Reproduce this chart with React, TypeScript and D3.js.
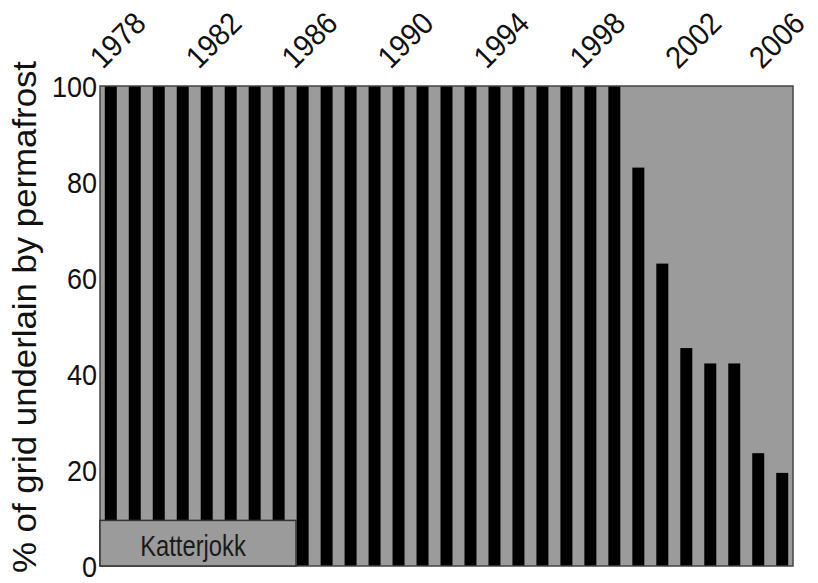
import React, { useMemo } from 'react';
import * as d3 from 'd3';

const YEARS = [
  1978, 1979, 1980, 1981, 1982, 1983, 1984, 1985, 1986, 1987,
  1988, 1989, 1990, 1991, 1992, 1993, 1994, 1995, 1996, 1997,
  1998, 1999, 2000, 2001, 2002, 2003, 2004, 2005, 2006,
];
const PERMAFROST = [
  100, 100, 100, 100, 100, 100, 100, 100, 100, 100,
  100, 100, 100, 100, 100, 100, 100, 100, 100, 100,
  100, 100, 83, 63, 45.4, 42.2, 42.2, 23.5, 19.4,
];
const YEAR_LABELS = [1978, 1982, 1986, 1990, 1994, 1998, 2002, 2006];
const Y_TICKS = [0, 20, 40, 60, 80, 100];
const SITE = 'Katterjokk';

const W = 818;
const H = 583;
const LEFT = 100;
const RIGHT = 793;
const TOP = 86;
const BOTTOM = 566;
const FONT = '"Liberation Sans", Arial, sans-serif';

export default function App() {
  const x = useMemo(
    () => d3.scaleBand<number>().domain(YEARS).range([LEFT, RIGHT]).paddingInner(0.5).paddingOuter(0.2),
    []
  );
  const y = useMemo(() => d3.scaleLinear().domain([0, 100]).range([BOTTOM, TOP]), []);

  return (
    <svg width={W} height={H} style={{ position: 'absolute', left: 0, top: 0 }} fontFamily={FONT}>
      <rect x={LEFT} y={TOP} width={RIGHT - LEFT} height={BOTTOM - TOP} fill="#9b9b9b" />

      {YEARS.map((yr, i) => (
        <rect
          key={yr}
          x={x(yr)}
          y={y(PERMAFROST[i])}
          width={x.bandwidth()}
          height={y(0) - y(PERMAFROST[i])}
          fill="#000"
        />
      ))}

      <rect x={LEFT} y={TOP} width={RIGHT - LEFT} height={BOTTOM - TOP} fill="none" stroke="#444" strokeWidth={1.5} />

      {/* site label box */}
      <rect x={LEFT} y={y(9.5)} width={196} height={y(0) - y(9.5)} fill="#9b9b9b" stroke="#333" strokeWidth={1.5} />
      <g transform={`translate(${LEFT + 93},${y(2.1)}) scale(0.82,1)`}>
        <text textAnchor="middle" fontSize={29} fill="#1a1a1a">
          {SITE}
        </text>
      </g>

      {/* y ticks */}
      {Y_TICKS.map((t) => (
        <g key={t} transform={`translate(97,${y(t) + 11}) scale(0.9,1)`}>
          <text textAnchor="end" fontSize={30} fill="#111">
            {t}
          </text>
        </g>
      ))}

      {/* y axis title */}
      <text
        transform={`translate(36,317) rotate(-90)`}
        textAnchor="middle"
        fontSize={33}
        textLength={512}
        lengthAdjust="spacingAndGlyphs"
        fill="#111"
      >
        % of grid underlain by permafrost
      </text>

      {/* top year labels */}
      {YEAR_LABELS.map((yr) => {
        const cx = (x(yr) ?? 0) + x.bandwidth() / 2;
        const lx = Math.min(cx - 8, W - 56);
        return (
          <g key={yr} transform={`translate(${lx},70) rotate(-45) scale(0.92,1)`}>
            <text fontSize={31} fill="#111">
              {yr}
            </text>
          </g>
        );
      })}
    </svg>
  );
}
